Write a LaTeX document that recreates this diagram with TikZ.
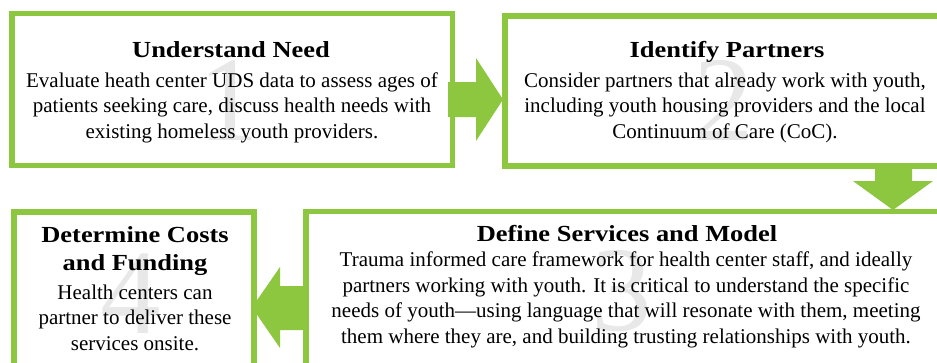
\documentclass[tikz,border=0pt]{standalone}
\usepackage{fontspec}
\setmainfont{Liberation Serif}
\newfontfamily\titlefont[FakeStretch=1.15]{Liberation Serif}
\definecolor{grn}{HTML}{8DC63F}
\definecolor{numgray}{HTML}{E8E8E8}
\tikzset{
  box/.style={draw=grn, line width=5.5pt},
  blockarrow/.style={fill=grn, draw=none},
  bignum/.style={text=numgray, font=\fontsize{121}{121}\selectfont, inner sep=0pt, anchor=base},
  title/.style={font=\titlefont\fontsize{23}{28}\selectfont\bfseries, inner sep=0pt, align=center, anchor=base},
  body/.style={font=\fontsize{21}{25.5}\selectfont, inner sep=0pt, align=center, anchor=base}
}
\begin{document}
\begin{tikzpicture}[x=1pt,y=-1pt]
\useasboundingbox (0,0) rectangle (937,362);
\clip (0,0) rectangle (937,362);
\fill[white] (0,0) rectangle (937,362);
% boxes
\draw[box] (12,13.5) rectangle (452.5,165.5);
\draw[box] (505,15.8) rectangle (950,166);
\draw[box] (306,211.5) rectangle (950,380);
\draw[box] (14,211.8) rectangle (254,380);
% arrows
\fill[blockarrow] (448,82) -- (476,82) -- (476,58) -- (503,99.5) -- (476,141) -- (476,117) -- (448,117) -- cycle;
\fill[blockarrow] (875,164) -- (875,181) -- (853,181) -- (893,210) -- (933,181) -- (912,181) -- (912,164) -- cycle;
\fill[blockarrow] (308,286) -- (280,286) -- (280,267) -- (252,307.5) -- (280,348) -- (280,330) -- (308,330) -- cycle;
% big numbers
\node[bignum] (n1) at (229,140) {1};
\node[bignum] (n2) at (724,140) {2};
\node[bignum] (n3) at (622,330) {3};
\node[bignum] (n4) at (131,333) {4};
% texts
\node[title] (t1) at (231,57) {Understand Need};
\node[body] (x1) at (232,138) {Evaluate heath center UDS data to assess ages of\\patients seeking care, discuss health needs with\\existing homeless youth providers.};
\node[title] (t2) at (727,57) {Identify Partners};
\node[body] (x2) at (725,138) {Consider partners that already work with youth,\\including youth housing providers and the local\\Continuum of Care (CoC).};
\node[title] (t3) at (627,241) {Define Services and Model};
\node[body] (x3) at (626,343) {Trauma informed care framework for health center staff, and ideally\\partners working with youth. It is critical to understand the specific\\needs of youth---using language that will resonate with them, meeting\\them where they are, and building trusting relationships with youth.};
\node[title] (t4) at (135,270) {Determine Costs\\and Funding};
\node[body] (x4) at (135,350) {Health centers can\\partner to deliver these\\services onsite.};
\end{tikzpicture}
\end{document}
